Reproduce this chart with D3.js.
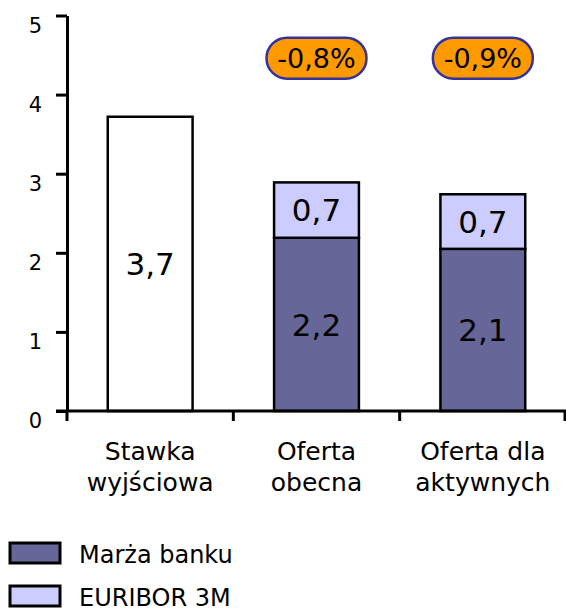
<!DOCTYPE html>
<html>
<head>
<meta charset="utf-8">
<script src="https://cdn.jsdelivr.net/npm/d3@7"></script>
<style>
  body { margin: 0; background: #fff; }
  text { font-family: "DejaVu Sans", Verdana, sans-serif; fill: #000; }
</style>
</head>
<body>
<script>
// chart data
var categories = ["Stawka wyjściowa", "Oferta obecna", "Oferta dla aktywnych"];
var catLines = [["Stawka", "wyjściowa"], ["Oferta", "obecna"], ["Oferta dla", "aktywnych"]];
var baseRate = [3.72, 0, 0];        // white bar
var margin_bank = [0, 2.19, 2.05];  // Marża banku
var euribor = [0, 0.70, 0.69];      // EURIBOR 3M
var valueLabels = [["3,7"], ["2,2", "0,7"], ["2,1", "0,7"]];
var badges = ["", "-0,8%", "-0,9%"];
var yTicks = [0, 1, 2, 3, 4, 5];
var legendNames = ["Marża banku", "EURIBOR 3M"];
var colors = { bank: "#666699", euribor: "#ccccff", orange: "#ff9900", navy: "#333399" };

var width = 566, height = 612;

var svg = d3.select("body").append("svg")
  .attr("width", width)
  .attr("height", height);

// scales
var x = d3.scaleBand().domain(categories).range([67, 566]).padding(0);
var y = d3.scaleLinear().domain([0, 5]).range([411, 15.5]);
var barW = x.bandwidth() * 0.51;

function barX(c) { return x(c) + (x.bandwidth() - barW) / 2; }

// build segments
var segs = [];
categories.forEach(function (c, i) {
  if (baseRate[i] > 0) segs.push({ c: c, y0: 0, y1: baseRate[i], fill: "#fff", label: valueLabels[i][0] });
  if (margin_bank[i] > 0) segs.push({ c: c, y0: 0, y1: margin_bank[i], fill: colors.bank, label: valueLabels[i][0] });
  if (euribor[i] > 0) segs.push({ c: c, y0: margin_bank[i], y1: margin_bank[i] + euribor[i], fill: colors.euribor, label: valueLabels[i][1] });
});

svg.selectAll("rect.seg")
  .data(segs)
  .enter().append("rect")
  .attr("class", "seg")
  .attr("x", function (d) { return barX(d.c); })
  .attr("y", function (d) { return y(d.y1); })
  .attr("width", barW)
  .attr("height", function (d) { return y(d.y0) - y(d.y1); })
  .attr("fill", function (d) { return d.fill; })
  .attr("stroke", "#000")
  .attr("stroke-width", 2.5);

svg.selectAll("text.val")
  .data(segs)
  .enter().append("text")
  .attr("class", "val")
  .attr("x", function (d) { return x(d.c) + x.bandwidth() / 2; })
  .attr("y", function (d) { return (y(d.y0) + y(d.y1)) / 2; })
  .attr("dy", "0.36em")
  .attr("text-anchor", "middle")
  .style("font-size", "31px")
  .text(function (d) { return d.label; });

// y axis (labels hang below their tick)
var yAxis = svg.append("g")
  .attr("transform", "translate(67,0)")
  .call(d3.axisLeft(y).tickValues(yTicks).tickFormat(d3.format("d"))
    .tickSize(11).tickSizeOuter(0).tickPadding(14));
yAxis.select(".domain").attr("stroke", "#000").attr("stroke-width", 3);
yAxis.selectAll(".tick line").attr("stroke", "#000").attr("stroke-width", 3);
yAxis.selectAll(".tick text")
  .style("font-size", "21px")
  .attr("font-family", null)
  .attr("dy", "0.8em");

// x axis
var xAxis = svg.append("g")
  .attr("transform", "translate(0,411)")
  .call(d3.axisBottom(x).tickSize(0).tickSizeOuter(0).tickFormat(""));
xAxis.select(".domain").remove();
xAxis.append("line")
  .attr("x1", 56).attr("x2", 566)
  .attr("stroke", "#000").attr("stroke-width", 3);
var edges = categories.map(function (c) { return x(c); }).concat([x.range()[1] - 1]);
xAxis.selectAll("line.edge")
  .data(edges)
  .enter().append("line")
  .attr("class", "edge")
  .attr("x1", function (d) { return d; })
  .attr("x2", function (d) { return d; })
  .attr("y1", 0).attr("y2", 10)
  .attr("stroke", "#000").attr("stroke-width", 3);

// category labels (two lines)
var catText = svg.selectAll("text.cat")
  .data(categories)
  .enter().append("text")
  .attr("class", "cat")
  .attr("text-anchor", "middle")
  .style("font-size", "25px")
  .attr("transform", function (c) { return "translate(" + (x(c) + x.bandwidth() / 2) + ",460)"; });
catText.selectAll("tspan")
  .data(function (c, i) { return catLines[i]; })
  .enter().append("tspan")
  .attr("x", 0)
  .attr("dy", function (d, j) { return j === 0 ? 0 : 31; })
  .text(function (d) { return d; });

// badges
var badgeData = categories.map(function (c, i) { return { c: c, t: badges[i] }; })
  .filter(function (d) { return d.t !== ""; });
var bw = 100, bh = 41;
var bg = svg.selectAll("g.badge")
  .data(badgeData)
  .enter().append("g")
  .attr("class", "badge")
  .attr("transform", function (d) { return "translate(" + (x(d.c) + x.bandwidth() / 2) + "," + y(4.46) + ")"; });
bg.append("rect")
  .attr("x", -bw / 2).attr("y", -bh / 2)
  .attr("width", bw).attr("height", bh)
  .attr("rx", bh / 2).attr("ry", bh / 2)
  .attr("fill", colors.orange)
  .attr("stroke", colors.navy)
  .attr("stroke-width", 2.5);
bg.append("text")
  .attr("text-anchor", "middle")
  .attr("dy", "0.36em")
  .style("font-size", "27px")
  .text(function (d) { return d.t; });

// legend
var legend = svg.selectAll("g.legend")
  .data(legendNames)
  .enter().append("g")
  .attr("class", "legend")
  .attr("transform", function (d, i) { return "translate(10," + (543 + i * 43) + ")"; });
legend.append("rect")
  .attr("width", 50).attr("height", 20)
  .attr("fill", function (d, i) { return i === 0 ? colors.bank : colors.euribor; })
  .attr("stroke", "#000").attr("stroke-width", 3);
legend.append("text")
  .attr("x", 69).attr("y", 11)
  .attr("dy", "0.36em")
  .style("font-size", "24px")
  .text(function (d) { return d; });
</script>
</body>
</html>
